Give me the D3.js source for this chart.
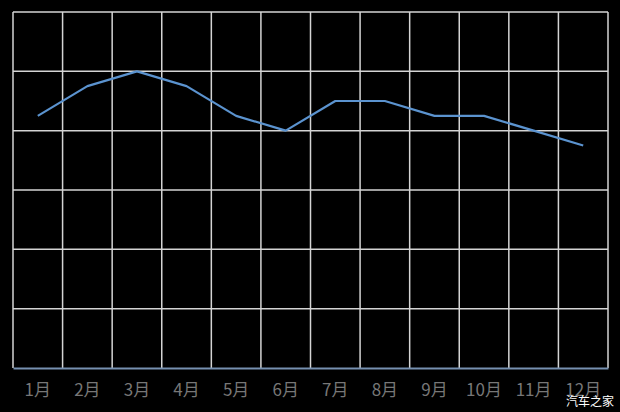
<!DOCTYPE html>
<html><head><meta charset="utf-8">
<script src="https://cdn.jsdelivr.net/npm/d3@7"></script>
<style>
html,body{margin:0;padding:0;background:#000;overflow:hidden}
svg{display:block}
</style></head>
<body>
<script>
const categories = ["1月","2月","3月","4月","5月","6月","7月","8月","9月","10月","11月","12月"];
const values = [17, 19, 20, 19, 17, 16, 18, 18, 17, 17, 16, 15];
const yTicks = [0, 4, 8, 12, 16, 20, 24];

const W = 620, H = 412;
const m = {left: 13, right: 12, top: 12, bottom: 44};
const svg = d3.select("body").append("svg").attr("width", W).attr("height", H);
svg.append("rect").attr("width", W).attr("height", H).attr("fill", "#000");

const x = d3.scaleBand().domain(categories).range([m.left, W - m.right]).padding(0);
const y = d3.scaleLinear().domain([0, 24]).range([H - m.bottom, m.top]);

const grid = svg.append("g");
grid.selectAll("line.h").data(yTicks.slice(1)).join("line")
  .attr("x1", m.left).attr("x2", W - m.right)
  .attr("y1", d => y(d)).attr("y2", d => y(d))
  .attr("stroke", "#d4d4d4").attr("stroke-width", 1.5);
const edges = categories.map(c => x(c)).concat([x(categories[categories.length-1]) + x.bandwidth()]);
grid.selectAll("line.v").data(edges).join("line")
  .attr("x1", d => d).attr("x2", d => d)
  .attr("y1", y(24)).attr("y2", y(0))
  .attr("stroke", "#d4d4d4").attr("stroke-width", 1.5);

const xAxis = svg.append("g").attr("transform", `translate(0,${y(0)})`)
  .call(d3.axisBottom(x).tickSize(0).tickPadding(16));
xAxis.select(".domain").attr("stroke", "#7690b0").attr("stroke-width", 2);
xAxis.selectAll("text").attr("fill", "#777777")
  .style("font-family", "'Noto Sans CJK SC', sans-serif").style("font-size", "17px");

const line = d3.line().x((d, i) => x(categories[i]) + x.bandwidth() / 2).y(d => y(d));
svg.append("path").datum(values).attr("d", line)
  .attr("fill", "none").attr("stroke", "#5b93cf").attr("stroke-width", 2.2)
  .attr("stroke-linejoin", "round");

svg.append("text").attr("x", 614).attr("y", 406).attr("text-anchor", "end")
  .attr("fill", "#fff").style("font-family", "'Noto Sans CJK SC', sans-serif")
  .style("font-size", "12px").text("汽车之家");
</script>
</body></html>
